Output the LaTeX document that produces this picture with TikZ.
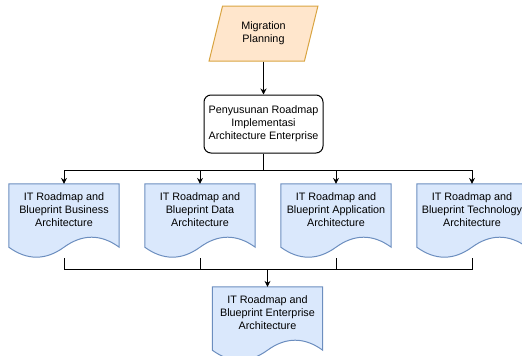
\documentclass[tikz,border=0pt]{standalone}
\usepackage{fontspec}
\setmainfont{Liberation Sans}
\usetikzlibrary{arrows.meta,shapes.geometric,backgrounds}

\definecolor{planfill}{HTML}{FFE6CC}
\definecolor{planedge}{HTML}{D9A441}
\definecolor{docfill}{HTML}{DAE8FC}
\definecolor{docedge}{HTML}{6C8EBF}

\tikzset{
  boxtext/.style={font=\fontsize{10.8}{12.9}\selectfont, align=center},
  planbox/.style={boxtext, trapezium, trapezium left angle=73, trapezium right angle=107,
    trapezium stretches=true, draw=planedge, fill=planfill, line width=1pt,
    minimum width=109pt, minimum height=55pt, inner sep=1pt},
  roadbox/.style={boxtext, draw, rounded corners=7pt, line width=1pt,
    minimum width=119pt, minimum height=58pt, inner sep=1pt},
  docbox/.style={boxtext, minimum width=110pt, minimum height=51.8pt, inner sep=1pt},
  conn/.style={line width=1pt},
  arr/.style={conn, -{Stealth[length=6pt,width=6pt]}}
}

% wavy document outline hanging below the text area of node #1
\newcommand{\docshape}[1]{%
  \draw[docedge, fill=docfill, line width=1pt]
    (#1.north west) -- (#1.north east) -- ([yshift=-11.1pt]#1.south east)
    .. controls ([xshift=-18.33pt,yshift=2.22pt]#1.south east)
       and ([xshift=18.33pt,yshift=2.22pt]#1.south) .. ([yshift=-11.1pt]#1.south)
    .. controls ([xshift=-18.33pt,yshift=-24.42pt]#1.south)
       and ([xshift=18.33pt,yshift=-24.42pt]#1.south west) .. ([yshift=-11.1pt]#1.south west)
    -- cycle;
  \coordinate (#1-foot) at ([yshift=-22.2pt]#1.south);
}

\begin{document}
\begin{tikzpicture}[x=1pt,y=-1pt]
    \useasboundingbox (0,0) rectangle (522,356);

    % Top of the flow
    \node[planbox] (plan) at (263.5,33.5) {Migration\\Planning};
    \node[roadbox] (road) at (263.5,124) {Penyusunan Roadmap\\Implementasi\\Architecture Enterprise};

    % Roadmap documents
    \node[docbox] (business) at (64,210) {IT Roadmap and\\Blueprint Business\\Architecture};
    \node[docbox] (data) at (200,210) {IT Roadmap and\\Blueprint Data\\Architecture};
    \node[docbox] (application) at (336,210) {IT Roadmap and\\Blueprint Application\\Architecture};
    \node[docbox] (technology) at (472,210) {IT Roadmap and\\Blueprint Technology\\Architecture};
    \node[docbox] (enterprise) at (267.5,313) {IT Roadmap and\\Blueprint Enterprise\\Architecture};

    \begin{scope}[on background layer]
        \docshape{business}
        \docshape{data}
        \docshape{application}
        \docshape{technology}
        \docshape{enterprise}
    \end{scope}

    % Split and merge points
    \coordinate (fork) at (263.5,170);
    \coordinate (merge) at (267.5,269);

    \draw[arr] (plan) -- (road);
    \draw[conn] (road) -- (fork);
    \draw[arr] (fork) -| (business.north);
    \draw[arr] (fork) -| (data.north);
    \draw[arr] (fork) -| (application.north);
    \draw[arr] (fork) -| (technology.north);

    \draw[conn] (business-foot) |- (merge);
    \draw[conn] (data-foot) |- (merge);
    \draw[conn] (application-foot) |- (merge);
    \draw[conn] (technology-foot) |- (merge);
    \draw[arr] (merge) -- (enterprise.north);
\end{tikzpicture}
\end{document}
